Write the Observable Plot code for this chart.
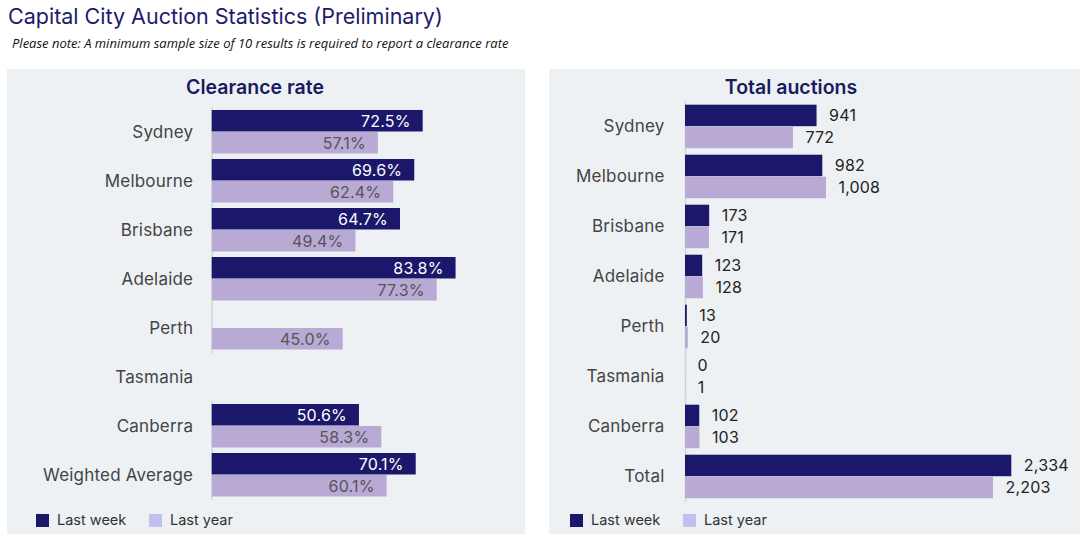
<!DOCTYPE html>
<html>
<head>
<meta charset="utf-8">
<script src="https://cdn.jsdelivr.net/npm/d3@7"></script>
<script src="https://cdn.jsdelivr.net/npm/@observablehq/plot@0.6"></script>
<style>
  html, body { margin: 0; padding: 0; background: #fff; }
  #root { position: relative; width: 1080px; height: 534px; overflow: hidden; font-family: Inter, "Open Sans", sans-serif; }
  .abs { position: absolute; }
  .abs svg { display: block; }
  .panel { position: absolute; background: #edf1f4; }
  #title { left: 8px; top: 2px; font-size: 21.5px; color: #1c1b6b; white-space: nowrap; line-height: 28px; }
  #subtitle { left: 12px; top: 34px; font-size: 13px; font-style: italic; color: #111; white-space: nowrap; font-family: "Open Sans", sans-serif; line-height: 18px; }
  .ptitle { position: absolute; font-size: 19.5px; font-weight: 600; color: #1a1a5e; text-align: center; white-space: nowrap; line-height: 24px; }
  .leg { position: absolute; font-size: 14.5px; color: #333; white-space: nowrap; line-height: 18px; }
  .sw { position: absolute; width: 13px; height: 13px; }
</style>
</head>
<body>
<div id="root">
  <div id="title" class="abs">Capital City Auction Statistics (Preliminary)</div>
  <div id="subtitle" class="abs">Please note: A minimum sample size of 10 results is required to report a clearance rate</div>
  <div class="panel" style="left:7px;top:69px;width:518px;height:465px;"></div>
  <div class="panel" style="left:549px;top:69px;width:531px;height:465px;"></div>
  <div class="ptitle" style="left:155px;top:75px;width:200px;">Clearance rate</div>
  <div class="ptitle" style="left:691px;top:75px;width:200px;">Total auctions</div>
  <div id="left" class="abs" style="left:7px;top:100px;"></div>
  <div id="right" class="abs" style="left:549px;top:95px;"></div>
  <div class="sw" style="left:36px;top:514px;background:#1b186b;"></div>
  <div class="leg" style="left:57px;top:511px;">Last week</div>
  <div class="sw" style="left:149px;top:514px;background:#c0c0ef;"></div>
  <div class="leg" style="left:170px;top:511px;">Last year</div>
  <div class="sw" style="left:570px;top:514px;background:#1b186b;"></div>
  <div class="leg" style="left:591px;top:511px;">Last week</div>
  <div class="sw" style="left:683px;top:514px;background:#c0c0ef;"></div>
  <div class="leg" style="left:704px;top:511px;">Last year</div>
</div>
<script>
// ---- Data ----
const seriesNames = ["Last week", "Last year"];
const seriesColors = ["#1b186b", "#b9a9d5"];

const clearanceCities = ["Sydney", "Melbourne", "Brisbane", "Adelaide", "Perth", "Tasmania", "Canberra", "Weighted Average"];
const clearanceLastWeek = [72.5, 69.6, 64.7, 83.8, null, null, 50.6, 70.1];
const clearanceLastYear = [57.1, 62.4, 49.4, 77.3, 45.0, null, 58.3, 60.1];

const auctionCities = ["Sydney", "Melbourne", "Brisbane", "Adelaide", "Perth", "Tasmania", "Canberra", "Total"];
const auctionsLastWeek = [941, 982, 173, 123, 13, 0, 102, 2334];
const auctionsLastYear = [772, 1008, 171, 128, 20, 1, 103, 2203];

function longForm(cities, a, b) {
  const out = [];
  cities.forEach((c, i) => {
    out.push({city: c, series: seriesNames[0], value: a[i]});
    out.push({city: c, series: seriesNames[1], value: b[i]});
  });
  return out;
}

const clearData = longForm(clearanceCities, clearanceLastWeek, clearanceLastYear).filter(d => d.value != null);
const auctData = longForm(auctionCities, auctionsLastWeek, auctionsLastYear);

const fontFam = "Inter, 'Open Sans', sans-serif";

// ---- Left chart: clearance rate ----
const left = Plot.plot({
  width: 518,
  height: 410,
  marginLeft: 204.7,
  marginRight: 22.3,
  marginTop: 10,
  marginBottom: 12.7,
  style: {background: "transparent", fontFamily: fontFam, fontSize: "17px", color: "#444", letterSpacing: "0.2px"},
  facet: {data: clearData, y: "city"},
  fy: {domain: clearanceCities, paddingInner: 0.102, paddingOuter: 0, axis: "left", label: null, tickSize: 0, tickPadding: 19},
  y: {domain: seriesNames, axis: null, padding: 0},
  x: {domain: [0, 100], axis: null},
  color: {domain: seriesNames, range: seriesColors},
  marks: [
    Plot.ruleX([0], {stroke: "#d2d6da", strokeWidth: 1.5, insetTop: -3, insetBottom: -3}),
    Plot.barX(clearData, {x: "value", y: "series", fill: "series", insetBottom: 0.5}),
    Plot.text(clearData, {
      x: "value", y: "series",
      text: d => d.value.toFixed(1) + "%",
      textAnchor: "end", dx: -12.5,
      fill: d => d.series === "Last week" ? "#ffffff" : "#555555",
      fontSize: 16
    })
  ]
});
document.getElementById("left").appendChild(left);

// ---- Right chart: total auctions ----
const fmt = d3.format(",");
const right = Plot.plot({
  width: 531,
  height: 415,
  marginLeft: 136,
  marginRight: 45.5,
  marginTop: 9.3,
  marginBottom: 10.7,
  style: {background: "transparent", fontFamily: fontFam, fontSize: "17px", color: "#444", letterSpacing: "0.2px"},
  facet: {data: auctData, y: "city"},
  fy: {domain: auctionCities, paddingInner: 0.1, paddingOuter: 0, axis: "left", label: null, tickSize: 0, tickPadding: 21},
  y: {domain: seriesNames, axis: null, padding: 0},
  x: {domain: [0, 2500], axis: null},
  color: {domain: seriesNames, range: seriesColors},
  marks: [
    Plot.ruleX([0], {stroke: "#d2d6da", strokeWidth: 1.5, insetTop: -3, insetBottom: -3}),
    Plot.barX(auctData, {x: "value", y: "series", fill: "series", insetBottom: 0.5}),
    Plot.text(auctData, {
      x: "value", y: "series",
      text: d => fmt(d.value),
      textAnchor: "start", dx: 12,
      fill: "#222222",
      fontSize: 16
    })
  ]
});
document.getElementById("right").appendChild(right);
</script>
</body>
</html>
